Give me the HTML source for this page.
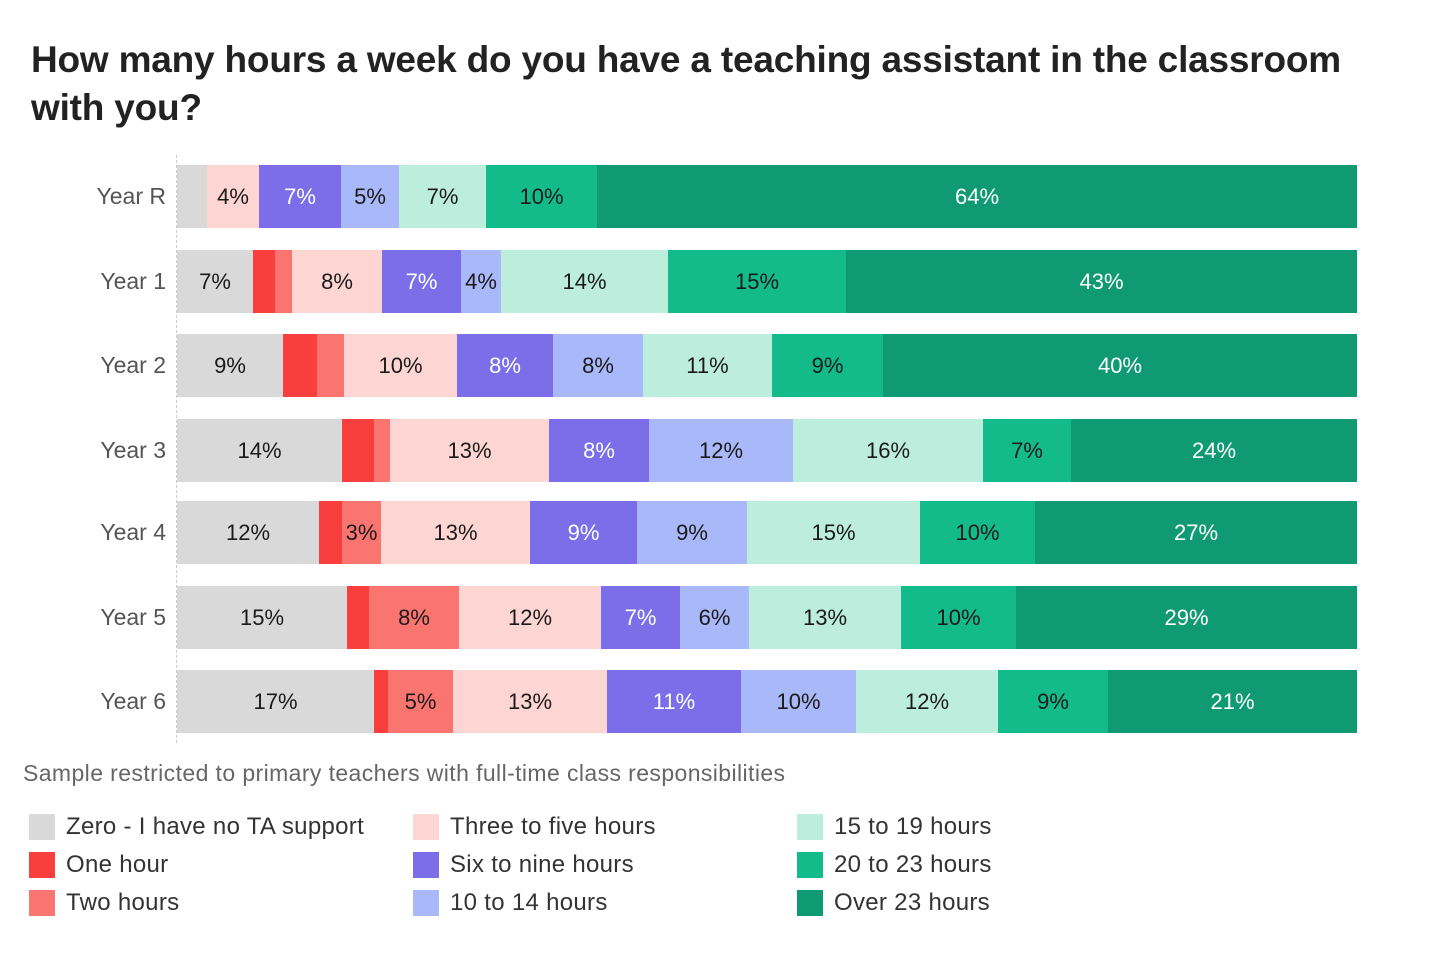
<!DOCTYPE html>
<html><head><meta charset="utf-8"><style>
body{margin:0;width:1440px;height:960px;background:#fff;font-family:"Liberation Sans",sans-serif;position:relative;overflow:hidden}
h1{position:absolute;left:31px;top:36px;margin:0;font-size:37px;line-height:48px;font-weight:bold;color:#222;letter-spacing:-0.2px;width:1350px}
.s{position:absolute;display:flex;align-items:center;justify-content:center;font-size:22px;color:#1a1a1a;height:63px}
.w{color:#fff}
.lab{position:absolute;left:40px;width:126px;text-align:right;font-size:23px;color:#555;height:63px;line-height:63px}
.axis{position:absolute;left:176px;top:155px;height:588px;border-left:1px dashed #ccc}
.note{position:absolute;left:23px;top:760px;font-size:23px;color:#666;letter-spacing:0.4px}
.lg{position:absolute;font-size:24px;color:#333;display:flex;align-items:center;height:28px;letter-spacing:0.3px}
.lg i{display:inline-block;width:26px;height:26px;margin-right:11px}
</style></head><body>
<h1>How many hours a week do you have a teaching assistant in the classroom with you?</h1>
<div class="axis"></div>
<div id="c"></div>
<div class="note">Sample restricted to primary teachers with full-time class responsibilities</div>
<div class="lg" style="left:29px;top:813px"><i style="background:#d9d9d9"></i>Zero - I have no TA support</div>
<div class="lg" style="left:29px;top:851px"><i style="background:#f93e3e"></i>One hour</div>
<div class="lg" style="left:29px;top:889px"><i style="background:#fa7470"></i>Two hours</div>
<div class="lg" style="left:413px;top:813px"><i style="background:#fdd5d3"></i>Three to five hours</div>
<div class="lg" style="left:413px;top:851px"><i style="background:#7b6ee8"></i>Six to nine hours</div>
<div class="lg" style="left:413px;top:889px"><i style="background:#a8b8f8"></i>10 to 14 hours</div>
<div class="lg" style="left:797px;top:813px"><i style="background:#bdeedd"></i>15 to 19 hours</div>
<div class="lg" style="left:797px;top:851px"><i style="background:#13bb8b"></i>20 to 23 hours</div>
<div class="lg" style="left:797px;top:889px"><i style="background:#0f9a73"></i>Over 23 hours</div>
<script>
var cols=["#d9d9d9","#f93e3e","#fa7470","#fdd5d3","#7b6ee8","#a8b8f8","#bdeedd","#13bb8b","#0f9a73"];
var white=[0,0,0,0,1,0,0,0,1];
var rows=[
["Year R",165,[177,207,207,207,259,341,399,486,597,1357],["","","","4%","7%","5%","7%","10%","64%"]],
["Year 1",250,[177,253,275,292,382,461,501,668,846,1357],["7%","","","8%","7%","4%","14%","15%","43%"]],
["Year 2",334,[177,283,317,344,457,553,643,772,883,1357],["9%","","","10%","8%","8%","11%","9%","40%"]],
["Year 3",419,[177,342,374,390,549,649,793,983,1071,1357],["14%","","","13%","8%","12%","16%","7%","24%"]],
["Year 4",501,[177,319,342,381,530,637,747,920,1035,1357],["12%","","3%","13%","9%","9%","15%","10%","27%"]],
["Year 5",586,[177,347,369,459,601,680,749,901,1016,1357],["15%","","8%","12%","7%","6%","13%","10%","29%"]],
["Year 6",670,[177,374,388,453,607,741,856,998,1108,1357],["17%","","5%","13%","11%","10%","12%","9%","21%"]]];
var h="";
rows.forEach(function(r){
 h+='<div class="lab" style="top:'+r[1]+'px">'+r[0]+'</div>';
 for(var i=0;i<9;i++){var a=r[2][i],b=r[2][i+1];if(b<=a)continue;
 h+='<div class="s'+(white[i]?' w':'')+'" style="left:'+a+'px;width:'+(b-a)+'px;top:'+r[1]+'px;background:'+cols[i]+'">'+r[3][i]+'</div>';}
});
document.getElementById("c").innerHTML=h;
</script>
</body></html>
